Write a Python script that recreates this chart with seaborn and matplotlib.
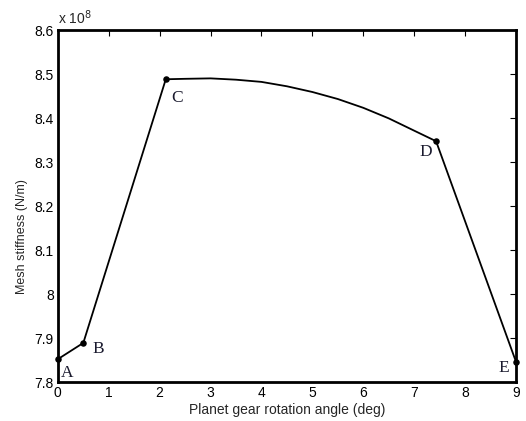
import numpy as np
import pandas as pd
import matplotlib
matplotlib.use("Agg")
import matplotlib.pyplot as plt
import seaborn as sns

# Data (stiffness in units of 1e8 N/m)
angle = [0.0, 0.5, 2.12, 2.5, 3.0, 3.5, 4.0, 4.5, 5.0, 5.5, 6.0, 6.5, 7.0, 7.43, 9.0]
stiffness = [7.852, 7.889, 8.489, 8.490, 8.491, 8.488, 8.483, 8.473, 8.460, 8.444,
             8.424, 8.400, 8.372, 8.348, 7.846]
key_labels = ["A", "B", "C", "D", "E"]
key_angle = [0.0, 0.5, 2.12, 7.43, 9.0]
key_stiff = [7.852, 7.889, 8.489, 8.348, 7.846]
label_offsets = [(2, -13), (6.5, -7), (3.6, -16.5), (-12, -11), (-12.5, -7.5)]  # points

xticks = list(range(0, 10))
yticks = [7.8, 7.9, 8.0, 8.1, 8.2, 8.3, 8.4, 8.5, 8.6]
ytick_labels = ["7.8", "7.9", "8", "8.1", "8.2", "8.3", "8.4", "8.5", "8.6"]

sns.set_style("white")
plt.rcParams['font.family'] = ['Liberation Sans', 'DejaVu Sans']

fig = plt.figure(figsize=(5.26, 4.21), dpi=100)
ax = fig.add_axes([0.110, 0.0926, 0.871, 0.835])

df = pd.DataFrame({"angle": angle, "stiffness": stiffness})
sns.lineplot(data=df, x="angle", y="stiffness", sort=False, estimator=None,
             color="black", linewidth=1.3, ax=ax)
kdf = pd.DataFrame({"angle": key_angle, "stiffness": key_stiff})
sns.scatterplot(data=kdf, x="angle", y="stiffness", color="black", s=22,
                edgecolor="black", linewidth=0, ax=ax, zorder=5, clip_on=False)

for lab, xa, ya, off in zip(key_labels, key_angle, key_stiff, label_offsets):
    ax.annotate(lab, (xa, ya), xytext=off, textcoords="offset points",
                fontsize=12.5, family=["Liberation Serif", "DejaVu Serif"],
                color="#1a1a2e", ha="left", va="baseline", annotation_clip=False)

ax.set_xlim(0, 9)
ax.set_ylim(7.8, 8.6)
ax.set_xticks(xticks)
ax.set_yticks(yticks)
ax.set_yticklabels(ytick_labels)
ax.tick_params(direction="in", length=4, width=0.8, top=True, right=True,
               labelsize=10, pad=3, colors="black")
for s in ax.spines.values():
    s.set_linewidth(2.0)
    s.set_color("black")
ax.set_xlabel("Planet gear rotation angle (deg)", fontsize=10, labelpad=2)
ax.set_ylabel("Mesh stiffness (N/m)", fontsize=9)
ax.yaxis.set_label_coords(-0.066, 0.415)
ax.text(0.0, 1.01, "x 10$^{8}$", transform=ax.transAxes, fontsize=10,
        ha="left", va="bottom")

fig.savefig("out.png", dpi=100)
